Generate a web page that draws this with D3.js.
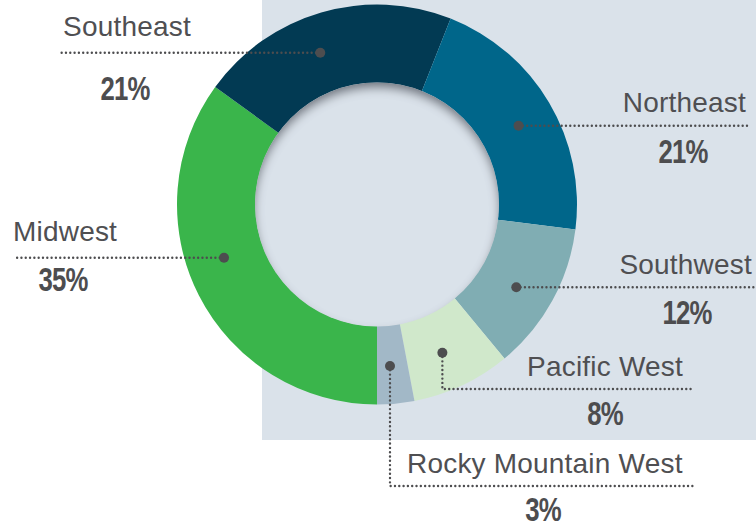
<!DOCTYPE HTML>
<html>
<head>
<meta charset="utf-8">
<title>Regions donut</title>
<script src="https://cdn.jsdelivr.net/npm/d3@7"></script>
<style>
body{ margin:0; background:#fff; }
svg{ display:block; }
.lbl{ font-family:"Liberation Sans", Arial, sans-serif; font-size:28px; fill:#4f4f52; letter-spacing:0.2px; }
.pct{ font-family:"Liberation Sans", Arial, sans-serif; font-weight:bold; font-size:33px; fill:#4d4d4f; }
</style>
</head>
<body>
<svg id="chart" width="756" height="529"></svg>
<script>
// data, clockwise from the bottom of the ring
var regions = ["Midwest", "Southeast", "Northeast", "Southwest", "Pacific West", "Rocky Mountain West"];
var shares  = [35, 21, 21, 12, 8, 3];
var colors  = ["#3ab54b", "#023a53", "#00668a", "#80adb3", "#d0e8cb", "#a2b8c7"];

// where each callout goes (nudge = degrees the dot sits off the slice middle)
var callouts = [
    {nudge: 7.8,  side: "start", textX: 13,  lineEnd: 13,  pctX: 63,  up: 17, down: 33},
    {nudge: -4.3, side: "start", textX: 63,  lineEnd: 60,  pctX: 125, up: 17, down: 47},
    {nudge: 1.5,  side: "end",   textX: 746, lineEnd: 747, pctX: 683, up: 14, down: 37},
    {nudge: 1.9,  side: "end",   textX: 752, lineEnd: 756, pctX: 687, up: 13, down: 37},
    {nudge: 1.4,  side: "end",   textX: 683, lineEnd: 691, pctX: 605, up: 13, down: 36, elbowY: 389},
    {nudge: 0.8,  side: "start", textX: 407, lineEnd: 693, pctX: 543, up: 13, down: 35, elbowY: 486}
];

var cx = 377, cy = 204.5, rOut = 200, rIn = 121.5, rDot = 162;
var pctSqueeze = 0.78;   // the percent figures are set in a condensed face
var svg = d3.select("#chart");

var defs = svg.append("defs");
var f = defs.append("filter").attr("id", "inset")
    .attr("x", "-20%").attr("y", "-20%").attr("width", "140%").attr("height", "140%");
f.append("feFlood").attr("flood-color", "#384050").attr("flood-opacity", 0.8);
f.append("feComposite").attr("in2", "SourceAlpha").attr("operator", "out");
f.append("feGaussianBlur").attr("stdDeviation", 5);
f.append("feOffset").attr("dy", 6).attr("result", "sh");
f.append("feComposite").attr("in", "sh").attr("in2", "SourceAlpha").attr("operator", "in").attr("result", "shIn");
var fm = f.append("feMerge");
fm.append("feMergeNode").attr("in", "SourceGraphic");
fm.append("feMergeNode").attr("in", "shIn");

// panel behind the right part
svg.append("rect")
    .attr("x", 262).attr("y", 0)
    .attr("width", 494).attr("height", 440)
    .attr("fill", "#dae2ea");

var pie = d3.pie().sort(null).value(function(d){ return d; })
    .startAngle(Math.PI).endAngle(3 * Math.PI);
var arcs = pie(shares);
var arc = d3.arc().innerRadius(rIn).outerRadius(rOut);

var g = svg.append("g").attr("transform", "translate(" + cx + "," + cy + ")");

g.selectAll("path.slice")
    .data(arcs)
    .enter().append("path")
    .attr("class", "slice")
    .attr("d", arc)
    .attr("fill", function(d, i){ return colors[i]; });

// hole with inner shadow
g.append("circle")
    .attr("r", rIn + 0.5)
    .attr("fill", "#dae2ea")
    .attr("filter", "url(#inset)");

// callouts
arcs.forEach(function(a, i){
    var c = callouts[i];
    var ang = (a.startAngle + a.endAngle) / 2 + c.nudge * Math.PI / 180;
    var x = cx + rDot * Math.sin(ang);
    var y = cy - rDot * Math.cos(ang);
    var lineY = c.elbowY !== undefined ? c.elbowY : y;

    var pts = [[x, y]];
    if (c.elbowY !== undefined) pts.push([x, c.elbowY]);
    pts.push([c.lineEnd, lineY]);

    svg.append("path")
        .attr("d", d3.line()(pts))
        .attr("fill", "none")
        .attr("stroke", "#4d4d4f")
        .attr("stroke-width", 2.4)
        .attr("stroke-linecap", "round")
        .attr("stroke-dasharray", "0.01,4.3");

    svg.append("circle")
        .attr("cx", x).attr("cy", y).attr("r", 5)
        .attr("fill", "#4d4d4f");

    svg.append("text")
        .attr("class", "lbl")
        .attr("x", c.textX).attr("y", lineY - c.up)
        .attr("text-anchor", c.side)
        .text(regions[i]);

    svg.append("text")
        .attr("class", "pct")
        .attr("transform", "translate(" + c.pctX + "," + (lineY + c.down) + ") scale(" + pctSqueeze + ",1)")
        .attr("text-anchor", "middle")
        .attr("letter-spacing", "-1px")
        .text(shares[i] + "%");
});
</script>
</body>
</html>
